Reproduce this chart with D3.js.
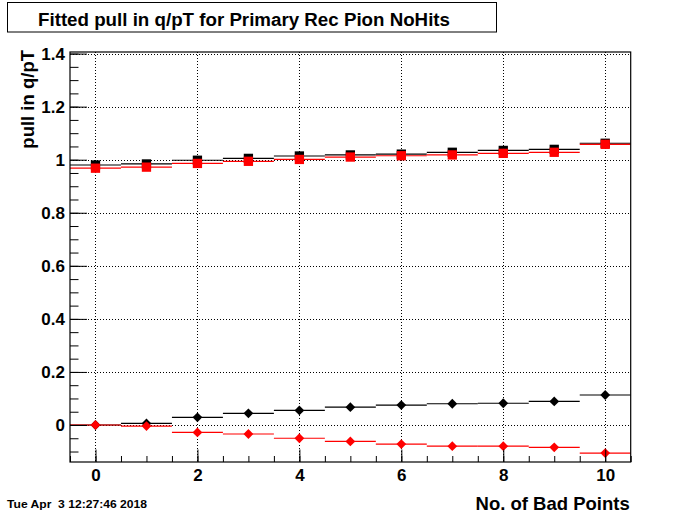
<!DOCTYPE html>
<html>
<head>
<meta charset="utf-8">
<script src="https://cdn.jsdelivr.net/npm/d3@7"></script>
<style>
  html, body { margin: 0; padding: 0; background: #fff; }
  svg { display: block; }
  text { font-family: "Liberation Sans", Arial, Helvetica, sans-serif; font-weight: bold; }
</style>
</head>
<body>
<div id="chart"></div>
<script>
// ---- data ----
const bins = [0, 1, 2, 3, 4, 5, 6, 7, 8, 9, 10];
const blackSquares = [0.980, 0.984, 0.998, 1.005, 1.014, 1.018, 1.021, 1.028, 1.035, 1.039, 1.062];
const redSquares   = [0.968, 0.972, 0.986, 0.994, 1.001, 1.010, 1.015, 1.018, 1.024, 1.028, 1.058];
const blackDiamonds = [0.000, 0.006, 0.029, 0.044, 0.055, 0.067, 0.075, 0.080, 0.082, 0.089, 0.113];
const redDiamonds   = [0.000, -0.004, -0.028, -0.034, -0.050, -0.062, -0.072, -0.080, -0.080, -0.084, -0.106];
const yMajorTicks = [0, 0.2, 0.4, 0.6, 0.8, 1, 1.2, 1.4];
const yTickLabels = ["0", "0.2", "0.4", "0.6", "0.8", "1", "1.2", "1.4"];
const xMajorTicks = [0, 2, 4, 6, 8, 10];
const xTickLabels = ["0", "2", "4", "6", "8", "10"];
const titleText = "Fitted pull in q/pT for Primary Rec Pion NoHits";
const xTitle = "No. of Bad Points";
const yTitle = "pull in q/pT";
const dateText = "Tue Apr  3 12:27:46 2018";

// ---- layout ----
const W = 700, H = 514;
const L = 70, R = 630.7, T = 52, B = 462;
const svg = d3.select("#chart").append("svg").attr("width", W).attr("height", H);

const x = d3.scaleLinear().domain([-0.5, 10.5]).range([L, R]);
const y = d3.scaleLinear().domain([-0.1395, 1.406]).range([B, T]);

// minor tick positions
const yMinor = d3.range(-0.1, 1.4001, 0.05).map(v => +v.toFixed(2));
const xMinor = d3.range(-0.5, 10.5001, 0.5);

// grid
const grid = svg.append("g").attr("stroke", "#000").attr("stroke-width", 1).attr("stroke-dasharray", "1,2");
grid.selectAll("line.gx").data(xMajorTicks).join("line")
  .attr("x1", d => Math.round(x(d)) + 0.5).attr("x2", d => Math.round(x(d)) + 0.5)
  .attr("y1", T).attr("y2", B);
grid.selectAll("line.gy").data(yMajorTicks).join("line")
  .attr("y1", d => Math.round(y(d)) + 0.5).attr("y2", d => Math.round(y(d)) + 0.5)
  .attr("x1", L).attr("x2", R);

// series
function drawSeries(vals, color, shape) {
  const g = svg.append("g");
  g.selectAll("line").data(bins).join("line")
    .attr("x1", d => x(d - 0.5)).attr("x2", d => x(d + 0.5))
    .attr("y1", (d, i) => y(vals[i])).attr("y2", (d, i) => y(vals[i]))
    .attr("stroke", color).attr("stroke-width", 1.2);
  if (shape === "square") {
    const s = 9.3;
    g.selectAll("rect").data(bins).join("rect")
      .attr("x", d => x(d) - s / 2).attr("y", (d, i) => y(vals[i]) - s / 2)
      .attr("width", s).attr("height", s).attr("fill", color);
  } else {
    const r = 4.9;
    g.selectAll("path").data(bins).join("path")
      .attr("d", (d, i) => {
        const cx = x(d), cy = y(vals[i]);
        return `M${cx},${cy - r}L${cx + r},${cy}L${cx},${cy + r}L${cx - r},${cy}Z`;
      })
      .attr("fill", color);
  }
}
drawSeries(blackSquares, "#000", "square");
drawSeries(redSquares, "#ff0000", "square");
drawSeries(blackDiamonds, "#000", "diamond");
drawSeries(redDiamonds, "#ff0000", "diamond");

// axes (ticks inside frame)
const yAxisMinor = d3.axisLeft(y).tickValues(yMinor).tickSize(-8.5).tickFormat("");
const yAxisMajor = d3.axisLeft(y).tickValues(yMajorTicks).tickSize(-17).tickPadding(5)
  .tickFormat((d, i) => yTickLabels[i]);
const xAxisMinor = d3.axisBottom(x).tickValues(xMinor).tickSize(-6).tickFormat("");
const xAxisMajor = d3.axisBottom(x).tickValues(xMajorTicks).tickSize(-12.5).tickPadding(7)
  .tickFormat((d, i) => xTickLabels[i]);

function styleAxis(g) {
  g.select(".domain").remove();
  g.selectAll("line").attr("stroke", "#000").attr("stroke-width", 1);
  g.selectAll("text").attr("font-size", 17).attr("fill", "#000")
    .style("font-family", '"Liberation Sans", Arial, sans-serif').style("font-weight", "bold");
}
svg.append("g").attr("transform", `translate(${L},0)`).call(yAxisMinor).call(styleAxis);
svg.append("g").attr("transform", `translate(${L},0)`).call(yAxisMajor).call(styleAxis);
svg.append("g").attr("transform", `translate(0,${B})`).call(xAxisMinor).call(styleAxis);
svg.append("g").attr("transform", `translate(0,${B})`).call(xAxisMajor).call(styleAxis);

// frame
svg.append("rect").attr("x", L).attr("y", T).attr("width", R - L).attr("height", B - T)
  .attr("fill", "none").attr("stroke", "#000").attr("stroke-width", 1.2);

// title box
svg.append("rect").attr("x", 7.5).attr("y", 2.5).attr("width", 489).attr("height", 29.5)
  .attr("fill", "#fff").attr("stroke", "#000").attr("stroke-width", 1);
svg.append("text").attr("x", 38).attr("y", 26).attr("font-size", 18.7)
  .attr("textLength", 412).attr("lengthAdjust", "spacingAndGlyphs").text(titleText);

// axis titles
svg.append("text").attr("x", R - 1).attr("y", 510).attr("text-anchor", "end")
  .attr("font-size", 18.5).text(xTitle);
svg.append("text").attr("transform", `translate(34,${T - 2}) rotate(-90)`)
  .attr("text-anchor", "end").attr("font-size", 18.5).text(yTitle);

// date
svg.append("text").attr("x", 7).attr("y", 508).attr("font-size", 11.5)
  .attr("textLength", 140).attr("lengthAdjust", "spacingAndGlyphs")
  .attr("xml:space", "preserve").style("white-space", "pre").text(dateText);
</script>
</body>
</html>
